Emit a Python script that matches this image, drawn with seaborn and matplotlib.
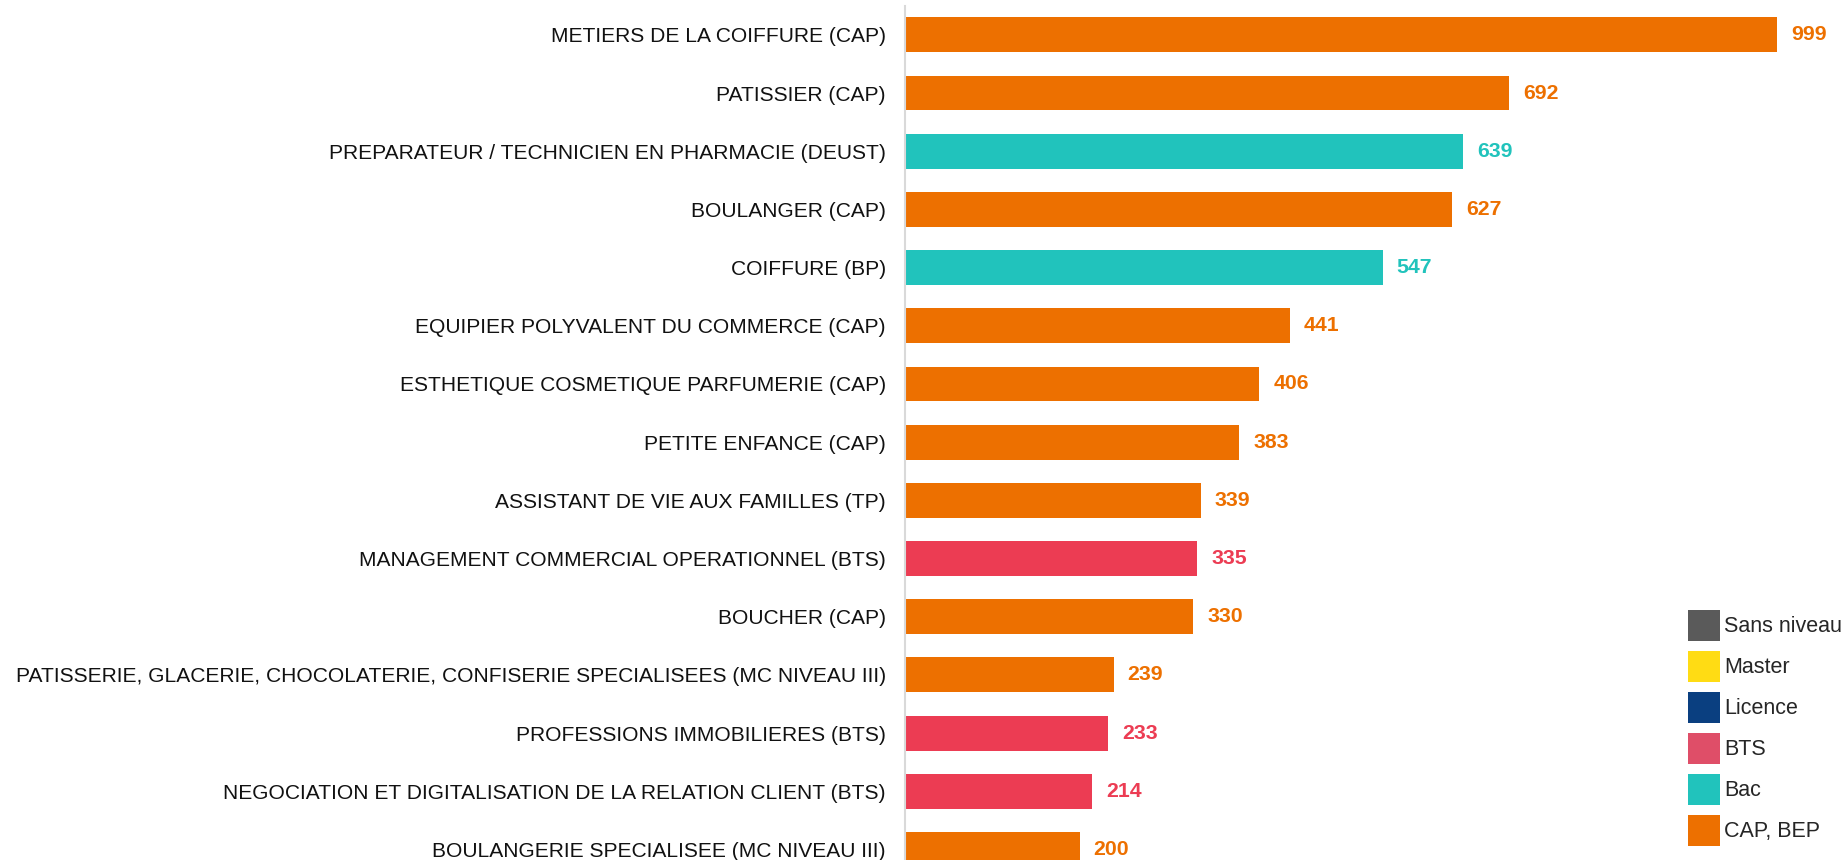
import matplotlib
matplotlib.use("Agg")
import matplotlib.pyplot as plt
import seaborn as sns
import pandas as pd
from matplotlib.patches import Patch

formations = [
    "METIERS DE LA COIFFURE (CAP)",
    "PATISSIER (CAP)",
    "PREPARATEUR / TECHNICIEN EN PHARMACIE (DEUST)",
    "BOULANGER (CAP)",
    "COIFFURE (BP)",
    "EQUIPIER POLYVALENT DU COMMERCE (CAP)",
    "ESTHETIQUE COSMETIQUE PARFUMERIE (CAP)",
    "PETITE ENFANCE (CAP)",
    "ASSISTANT DE VIE AUX FAMILLES (TP)",
    "MANAGEMENT COMMERCIAL OPERATIONNEL (BTS)",
    "BOUCHER (CAP)",
    "PATISSERIE, GLACERIE, CHOCOLATERIE, CONFISERIE SPECIALISEES (MC NIVEAU III)",
    "PROFESSIONS IMMOBILIERES (BTS)",
    "NEGOCIATION ET DIGITALISATION DE LA RELATION CLIENT (BTS)",
    "BOULANGERIE SPECIALISEE (MC NIVEAU III)",
]
effectifs = [999, 692, 639, 627, 547, 441, 406, 383, 339, 335, 330, 239, 233, 214, 200]
niveaux = ["CAP, BEP", "CAP, BEP", "Bac", "CAP, BEP", "Bac", "CAP, BEP", "CAP, BEP",
           "CAP, BEP", "CAP, BEP", "BTS", "CAP, BEP", "CAP, BEP", "BTS", "BTS", "CAP, BEP"]

bar_colors = {"CAP, BEP": "#ED7000", "Bac": "#21C3BC", "BTS": "#EC3C53"}
legend_labels = ["Sans niveau", "Master", "Licence", "BTS", "Bac", "CAP, BEP"]
legend_colors = ["#5A5A5A", "#FFDC14", "#0A3F80", "#DF4E68", "#21C3BC", "#ED7000"]

sns.set_theme(style="white")
plt.rcParams["font.family"] = ["Liberation Sans", "DejaVu Sans"]

df = pd.DataFrame({"formation": formations, "effectif": effectifs, "niveau": niveaux})

W, H = 1847, 860
fig = plt.figure(figsize=(W / 100, H / 100), dpi=100)
ax_left = 905 / W
ax_top = 6
ax = fig.add_axes([ax_left, 0, 1 - ax_left, 1 - ax_top / H])

sns.barplot(data=df, x="effectif", y="formation", hue="niveau", order=formations,
            palette=bar_colors, dodge=False, legend=False, width=0.6,
            linewidth=0, saturation=1, ax=ax)

ax.set_xlim(0, 1079)
ax.set_ylim(14.18, -0.495)
ax.set_xlabel("")
ax.set_ylabel("")
ax.set_xticks([])
for s in ["top", "right", "bottom"]:
    ax.spines[s].set_visible(False)
ax.spines["left"].set_color("#D9D9D9")
ax.spines["left"].set_linewidth(1.5)
ax.tick_params(axis="y", length=0, pad=13.7, labelsize=15.1, labelcolor="#111111")

for i, (v, n) in enumerate(zip(effectifs, niveaux)):
    ax.annotate(str(v), (v, i), xytext=(14, 0), textcoords="offset pixels",
                ha="left", va="center", fontsize=15.3, fontweight="bold",
                color=bar_colors[n])

handles = [Patch(facecolor=c, edgecolor="none") for c in legend_colors]
fig.legend(handles, legend_labels, loc="upper left",
           bbox_to_anchor=(1688 / W, 1 - 610 / H), bbox_transform=fig.transFigure,
           frameon=False, fontsize=15.5, handlelength=1.49, handleheight=1.84,
           labelspacing=0.46, handletextpad=0.2, borderpad=0, borderaxespad=0)

fig.savefig("out.png", dpi=100)
